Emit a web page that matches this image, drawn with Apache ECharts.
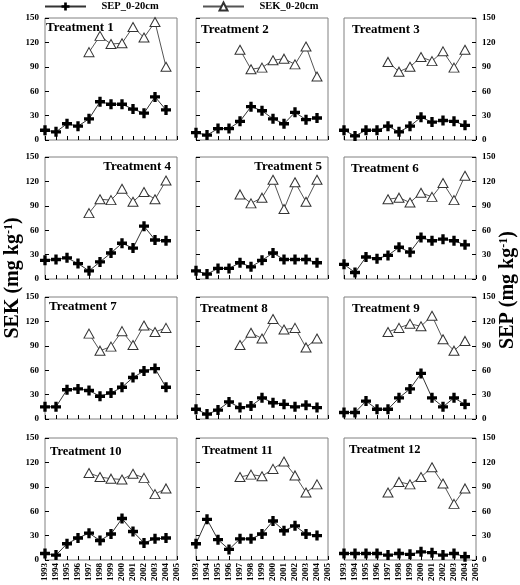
<!DOCTYPE html>
<html>
<head>
<meta charset="utf-8">
<script src="https://cdn.jsdelivr.net/npm/echarts@6/dist/echarts.min.js"></script>
<style>html,body{margin:0;padding:0;background:#fff}#c{width:520px;height:585px}</style>
</head>
<body>
<div id="c"></div>
<script>
// Years on the x axis (tick labels)
const years = ['1993','1994','1995','1996','1997','1998','1999','2000','2001','2002','2003','2004','2005'];
const sekStartIndex = 4; // SEK measured from 1997
const yTicks = [0, 30, 60, 90, 120, 150];

// SEP_0-20cm, 1993-2004
const sep1  = [12, 10, 20, 17, 26, 47, 44, 44, 38, 33, 53, 37];
const sep2  = [9, 6, 14, 14, 23, 41, 36, 26, 20, 34, 25, 27];
const sep3  = [12, 5, 12, 12, 17, 10, 17, 28, 22, 24, 23, 18];
const sep4  = [23, 24, 26, 19, 10, 21, 32, 44, 38, 65, 48, 47];
const sep5  = [10, 6, 13, 13, 20, 15, 23, 32, 24, 24, 24, 20];
const sep6  = [18, 8, 27, 25, 29, 39, 33, 51, 47, 49, 47, 42];
const sep7  = [15, 15, 36, 37, 35, 28, 32, 39, 51, 59, 62, 39];
const sep8  = [12, 6, 11, 21, 14, 16, 26, 20, 18, 15, 17, 14];
const sep9  = [8, 8, 22, 12, 12, 26, 37, 56, 26, 15, 26, 18];
const sep10 = [8, 6, 20, 27, 33, 24, 32, 51, 35, 21, 26, 27];
const sep11 = [20, 50, 25, 13, 26, 26, 32, 48, 36, 42, 32, 30];
const sep12 = [8, 8, 8, 8, 6, 8, 7, 10, 9, 6, 8, 4];

// SEK_0-20cm, 1997-2004
const sek1  = [108, 128, 118, 119, 139, 126, 145, 90];
const sek2  = [111, 87, 89, 98, 100, 93, 115, 78];
const sek3  = [96, 84, 90, 102, 97, 109, 89, 111];
const sek4  = [81, 98, 97, 111, 95, 107, 98, 121];
const sek5  = [104, 93, 100, 122, 86, 119, 95, 122];
const sek6  = [98, 100, 94, 106, 101, 118, 97, 127];
const sek7  = [105, 84, 89, 108, 91, 115, 107, 112];
const sek8  = [91, 106, 99, 123, 110, 112, 88, 99];
const sek9  = [107, 112, 117, 114, 127, 98, 84, 96];
const sek10 = [107, 102, 100, 99, 106, 101, 81, 88];
const sek11 = [102, 105, 103, 112, 121, 104, 83, 93];
const sek12 = [83, 96, 93, 102, 114, 94, 69, 88];

const treatments = ['Treatment 1','Treatment 2','Treatment 3','Treatment 4','Treatment 5','Treatment 6',
  'Treatment 7','Treatment 8','Treatment 9','Treatment 10','Treatment 11','Treatment 12'];

const sepAll = [sep1,sep2,sep3,sep4,sep5,sep6,sep7,sep8,sep9,sep10,sep11,sep12];
const sekAll = [sek1,sek2,sek3,sek4,sek5,sek6,sek7,sek8,sek9,sek10,sek11,sek12];

const FONT = "'Liberation Serif', 'DejaVu Serif', serif";
const colX = [45, 196, 344];
const rowY = [18, 157, 297, 438];
const W = 132, H = 122;

// title placement per panel
const titlePos = [
  {left: 46, top: 21}, {left: 201, top: 23}, {left: 352, top: 23},
  {right: 349, top: 160}, {right: 198, top: 160}, {left: 351, top: 162},
  {left: 49, top: 300}, {left: 200, top: 302}, {left: 352, top: 302},
  {left: 50, top: 445}, {left: 202, top: 444}, {left: 349, top: 443}
];

const crossPath = 'path://M3,0H6V3H9V6H6V9H3V6H0V3H3Z';

const grids = [], xAxes = [], yAxes = [], series = [], titles = [];
for (let i = 0; i < 12; i++) {
  const r = Math.floor(i / 3), c = i % 3;
  grids.push({left: colX[c], top: rowY[r], width: W, height: H, show: true,
    borderColor: '#808080', borderWidth: 1, backgroundColor: 'transparent'});
  xAxes.push({
    type: 'category', gridIndex: i, data: years, boundaryGap: false,
    axisLine: {show: false},
    axisTick: {show: true, inside: true, length: 4, interval: 0, lineStyle: {color: '#000', width: 1}},
    axisLabel: {show: r === 3, rotate: 90, interval: 0, fontSize: 9, fontFamily: FONT,
      fontWeight: 'bold', color: '#000', margin: 3},
    splitLine: {show: false}
  });
  yAxes.push({
    type: 'value', gridIndex: i, min: yTicks[0], max: yTicks[yTicks.length - 1], interval: 30,
    position: c === 2 ? 'right' : 'left',
    axisLine: {show: false},
    axisTick: {show: true, inside: true, length: 4, lineStyle: {color: '#000', width: 1}},
    axisLabel: {show: c !== 1, fontSize: 9, fontFamily: FONT, fontWeight: 'bold', color: '#000', margin: 6},
    splitLine: {show: false}
  });
  const sekData = years.map((y, j) => {
    const k = j - sekStartIndex;
    return (k >= 0 && k < sekAll[i].length) ? sekAll[i][k] : null;
  });
  const sepData = years.map((y, j) => j < sepAll[i].length ? sepAll[i][j] : null);
  series.push({
    name: 'SEK_0-20cm', type: 'line', xAxisIndex: i, yAxisIndex: i, data: sekData,
    symbol: 'triangle', symbolSize: [10, 9], showSymbol: true, showAllSymbol: true,
    lineStyle: {color: '#555', width: 1},
    itemStyle: {color: '#fff', borderColor: '#333', borderWidth: 1},
    animation: false, z: 3
  });
  series.push({
    name: 'SEP_0-20cm', type: 'line', xAxisIndex: i, yAxisIndex: i, data: sepData,
    symbol: crossPath, symbolSize: 10, showSymbol: true, showAllSymbol: true,
    lineStyle: {color: '#333', width: 1},
    itemStyle: {color: '#000', borderWidth: 0},
    animation: false, z: 4
  });
  titles.push(Object.assign({
    text: treatments[i], padding: 0,
    textStyle: {fontFamily: FONT, fontSize: i >= 9 ? 12.5 : 13, fontWeight: 'bold', color: '#000'}
  }, titlePos[i]));
}

const legendText = {fontFamily: FONT, fontSize: 10.5, fontWeight: 'bold', color: '#000'};
const legendFmt = function (name) { return '\u2002\u2002' + name; };

const chart = echarts.init(document.getElementById('c'), null, {renderer: 'canvas'});
chart.setOption({
  animation: false,
  backgroundColor: '#fff',
  title: titles,
  legend: [
    {data: ['SEP_0-20cm'], left: 44, top: 1, padding: 0, itemWidth: 41, itemHeight: 10,
      formatter: legendFmt, textStyle: legendText},
    {data: ['SEK_0-20cm'], left: 202, top: 1, padding: 0, itemWidth: 41, itemHeight: 10,
      formatter: legendFmt, textStyle: legendText}
  ],
  grid: grids,
  xAxis: xAxes,
  yAxis: yAxes,
  series: series,
  graphic: [
    {type: 'text', x: 13, y: 278, rotation: Math.PI / 2,
      style: {text: 'SEK (mg kg{sup|-1})', fill: '#000', align: 'center', verticalAlign: 'middle',
        font: "bold 20px 'Liberation Serif', serif",
        rich: {sup: {fontSize: 12, fontWeight: 'bold', fontFamily: FONT, verticalAlign: 'top', fill: '#000'}}}},
    {type: 'text', x: 508, y: 290, rotation: Math.PI / 2,
      style: {text: 'SEP (mg kg{sup|-1})', fill: '#000', align: 'center', verticalAlign: 'middle',
        font: "bold 20px 'Liberation Serif', serif",
        rich: {sup: {fontSize: 12, fontWeight: 'bold', fontFamily: FONT, verticalAlign: 'top', fill: '#000'}}}}
  ]
});
</script>
</body>
</html>
